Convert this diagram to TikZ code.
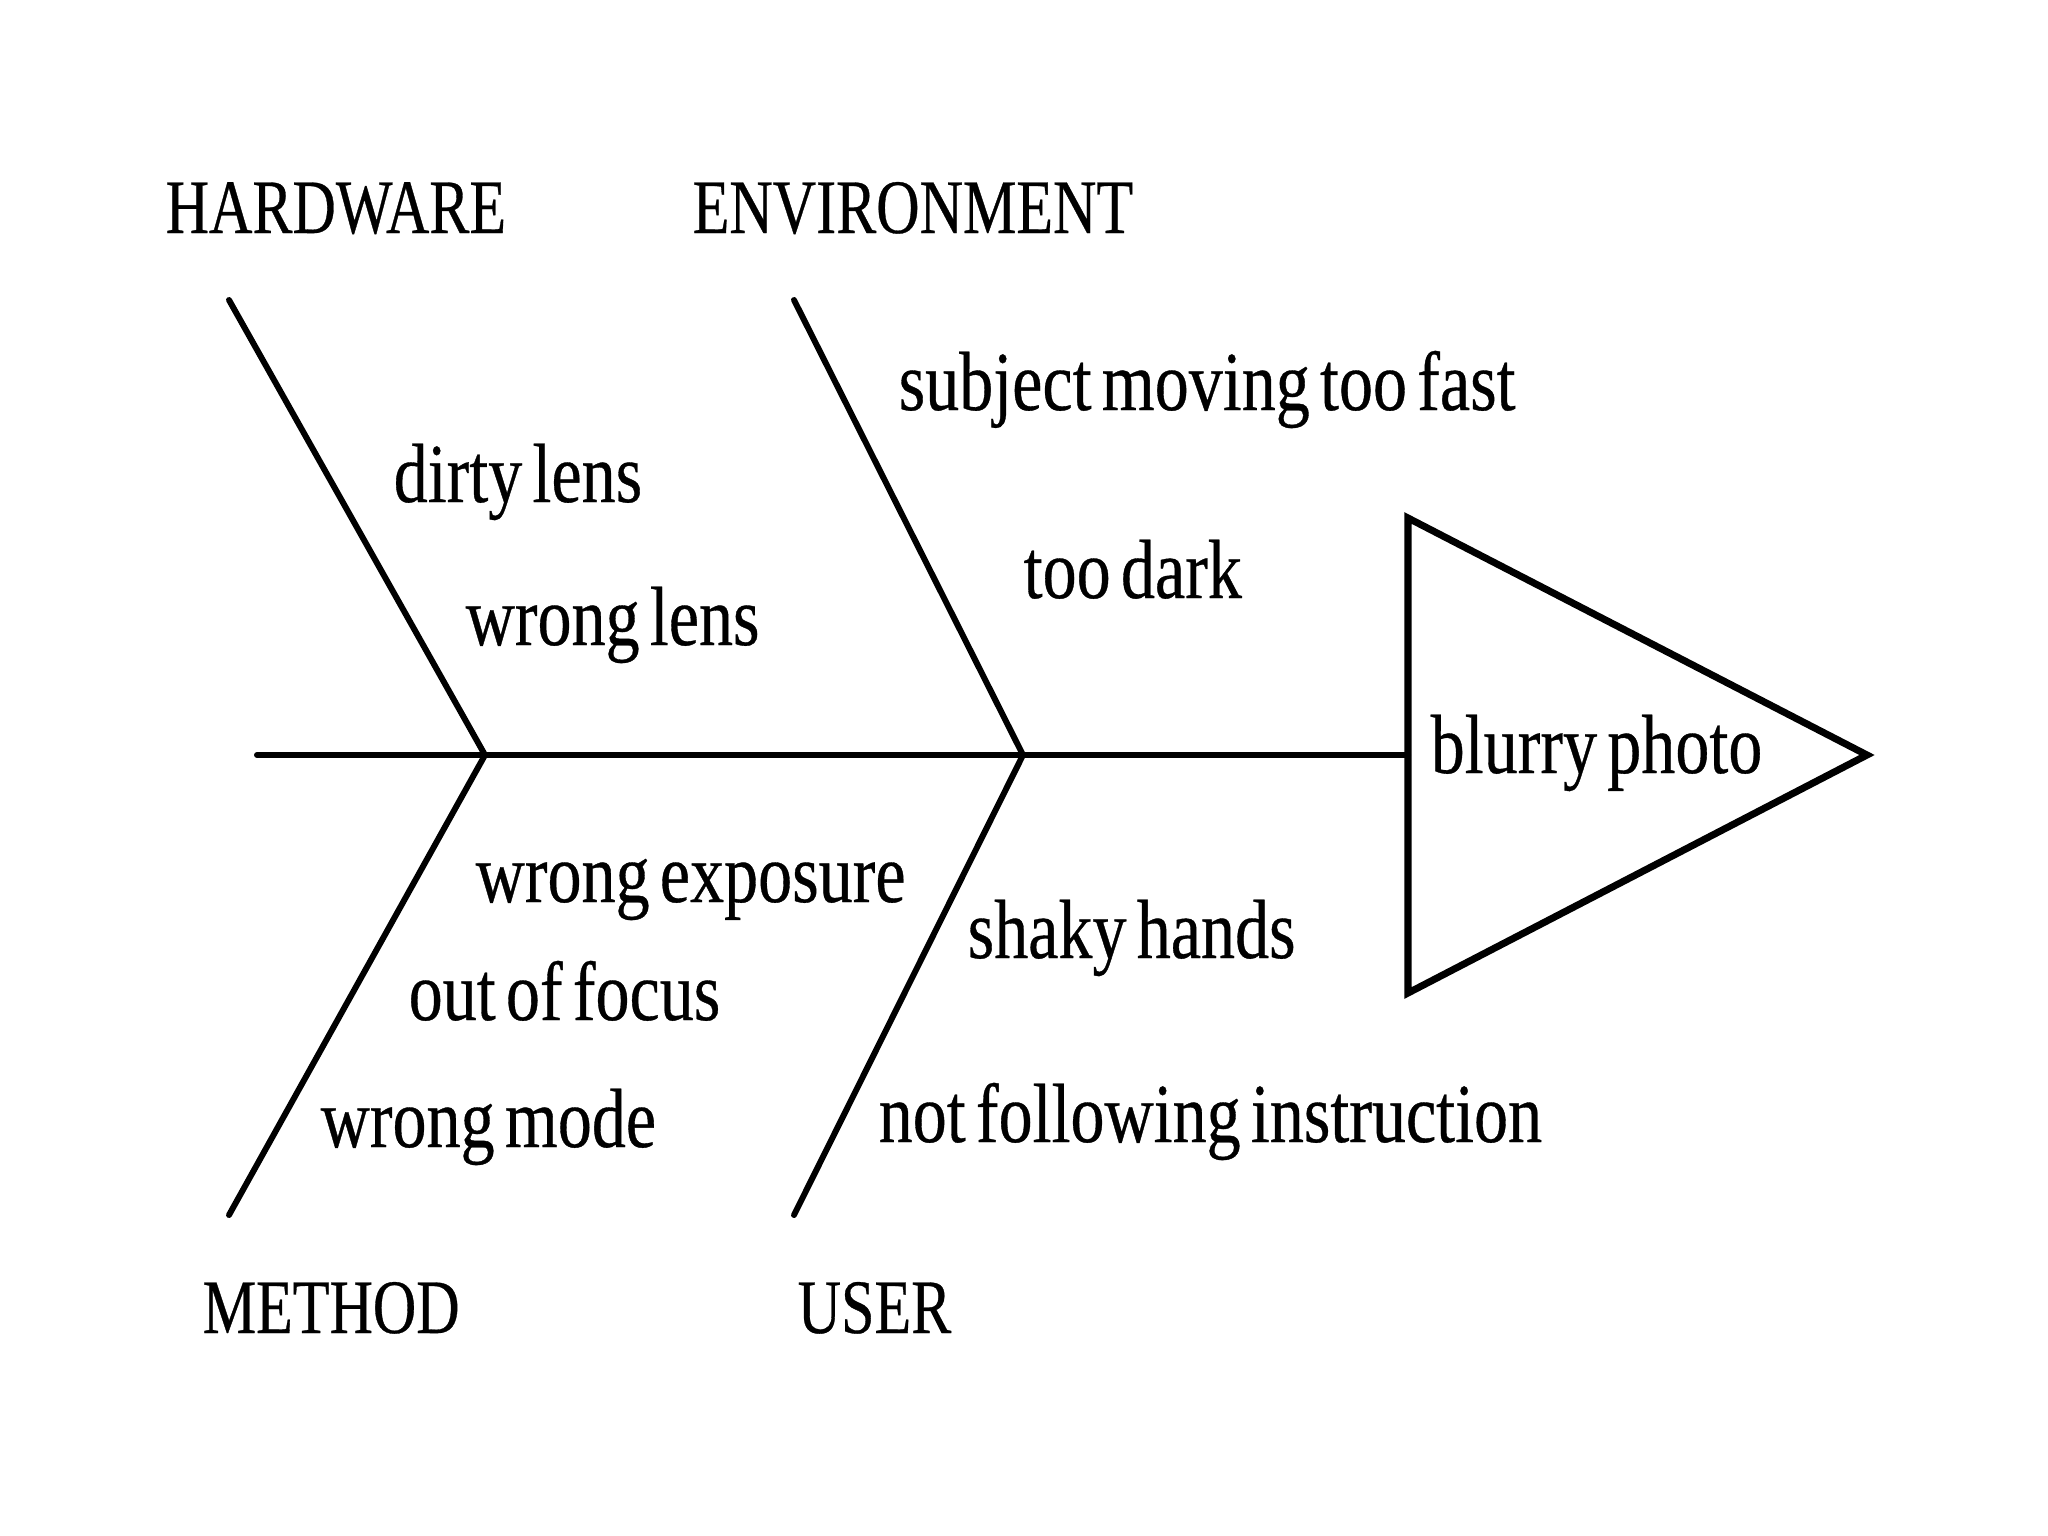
\documentclass[tikz,border=0pt]{standalone}
\usepackage{fontspec}
\setmainfont{Liberation Serif}
\newfontfamily\lowf[FakeStretch=0.81,WordSpace=0.6,FakeBold=0.4]{Liberation Serif}
\newfontfamily\capf[FakeStretch=0.78,FakeBold=0.4]{Liberation Serif}
\begin{document}
\begin{tikzpicture}[x=0.01cm,y=-0.01cm,
  cause/.style={anchor=base west,inner sep=0pt,font=\lowf\fontsize{23.9pt}{28pt}\selectfont},
  cat/.style={anchor=base west,inner sep=0pt,font=\capf\fontsize{21.9pt}{26pt}\selectfont},
  bone/.style={line width=1.7pt,line cap=round},
  head/.style={line width=2pt,line join=miter}]
\fill[white] (0,0) rectangle (2048,1536);
\useasboundingbox (0,0) rectangle (2048,1536);
% coordinates
\coordinate (spineL) at (257,755);
\coordinate (jH) at (485,755);
\coordinate (jE) at (1023,755);
\coordinate (hTop) at (229,300);
\coordinate (eTop) at (794,300);
\coordinate (mBot) at (229,1215);
\coordinate (uBot) at (794,1215);
\coordinate (triT) at (1408,518);
\coordinate (triB) at (1408,993);
\coordinate (triP) at (1867,755);
\coordinate (triM) at (1408,755);
% spine and bones
\draw[bone] (spineL) -- (jH) -- (jE) -- (triM);
\draw[bone] (hTop) -- (jH) -- (mBot);
\draw[bone] (eTop) -- (jE) -- (uBot);
% head
\draw[head] (triT) -- (triP) -- (triB) -- cycle;
% category labels
\node[cat] (hw) at (165,233) {HARDWARE};
\node[cat] (env) at (692,233) {ENVIRONMENT};
\node[cat] (meth) at (202,1333) {METHOD};
\node[cat] (user) at (797,1333) {USER};
% causes
\node[cause] (c1) at (393,502) {dirty lens};
\node[cause] (c2) at (465,645) {wrong lens};
\node[cause] (c3) at (898,410) {subject moving too fast};
\node[cause] (c4) at (1023,598) {too dark};
\node[cause] (c5) at (475,902) {wrong exposure};
\node[cause] (c6) at (408,1020) {out of focus};
\node[cause] (c7) at (320,1147) {wrong mode};
\node[cause] (c8) at (967,958) {shaky hands};
\node[cause] (c9) at (878,1142) {not following instruction};
\node[cause] (eff) at (1430,773) {blurry photo};
\end{tikzpicture}
\end{document}
